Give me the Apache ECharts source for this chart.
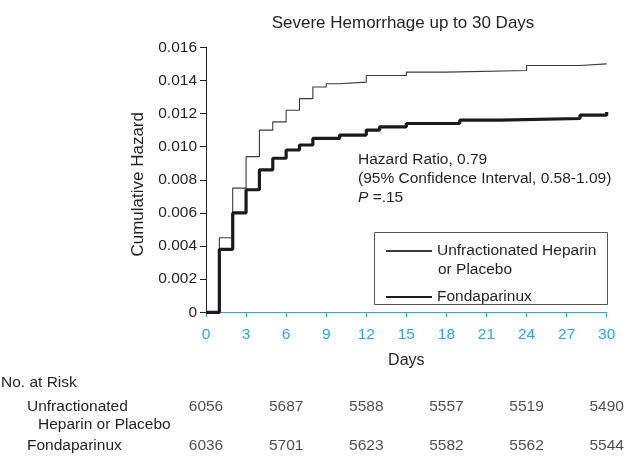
<!DOCTYPE html>
<html>
<head>
<meta charset="utf-8">
<script src="https://cdn.jsdelivr.net/npm/echarts@6/dist/echarts.min.js"></script>
<style>html,body{margin:0;padding:0;background:#fff}#c{width:626px;height:460px}</style>
</head>
<body>
<div id="c"></div>
<script>
// Data
var ufhDays   = [0, 1, 2, 3, 4, 5, 6, 7, 8, 9, 10, 12, 15, 18, 24, 28, 30];
var ufhHazard = [0, 0.0045, 0.0075, 0.0094, 0.0110, 0.0115, 0.0122, 0.0129, 0.0136, 0.0138, 0.0139, 0.0143, 0.0145, 0.0146, 0.0149, 0.0150, 0.0150];
var fondaDays   = [0, 1, 2, 3, 4, 5, 6, 7, 8, 10, 12, 13, 15, 19, 22, 28, 30];
var fondaHazard = [0, 0.0038, 0.0060, 0.0074, 0.0086, 0.0093, 0.0098, 0.0101, 0.0105, 0.0107, 0.0110, 0.0112, 0.0114, 0.0116, 0.0117, 0.0119, 0.0121];
var riskDays  = [0, 6, 12, 18, 24, 30];
var riskUfh   = [6056, 5687, 5588, 5557, 5519, 5490];
var riskFonda = [6036, 5701, 5623, 5582, 5562, 5544];
var xTicks = [0, 3, 6, 9, 12, 15, 18, 21, 24, 27, 30];
var yTicks = [0, 0.002, 0.004, 0.006, 0.008, 0.010, 0.012, 0.014, 0.016];
var ufhName = 'Unfractionated Heparin or Placebo';
var fondaName = 'Fondaparinux';

var FONT = '"Liberation Sans", Arial, Helvetica, sans-serif';
var TXT = '#231f20';
var BLUE = '#2aa9e0';
var FS = 15.5;

function zip(xs, ys) { return xs.map(function (x, i) { return [x, ys[i]]; }); }
function riskRow(vals, row) { return riskDays.map(function (d, i) { return [d, row, vals[i]]; }); }

var chart = echarts.init(document.getElementById('c'), null, {renderer: 'canvas'});
var riskLabel = {show: true, position: 'inside', fontSize: FS, color: TXT, fontFamily: FONT,
  formatter: function (p) { return String(p.value[2]); }};
chart.setOption({
  animation: false,
  textStyle: {fontFamily: FONT, color: TXT},
  title: {
    text: 'Severe Hemorrhage up to 30 Days',
    left: 398, top: 10, textAlign: 'center',
    textStyle: {fontFamily: FONT, fontSize: 17, fontWeight: 'normal', color: TXT}
  },
  grid: [
    {left: 206, right: 19.3, top: 47.3, bottom: 147.7},
    {left: 206, right: 19.3, top: 407, height: 39}
  ],
  xAxis: [{
    type: 'value', gridIndex: 0, min: 0, max: 30, interval: 3, offset: 7,
    axisLine: {show: true, lineStyle: {color: BLUE, width: 1.2}},
    axisTick: {show: true, length: 5, lineStyle: {color: BLUE, width: 1.2}},
    axisLabel: {color: BLUE, fontSize: FS, margin: 7, fontFamily: FONT},
    splitLine: {show: false},
    name: 'Days', nameLocation: 'middle', nameGap: 33,
    nameTextStyle: {fontSize: 16, color: TXT, fontFamily: FONT}
  }, {
    type: 'value', gridIndex: 1, min: 0, max: 30, show: false
  }],
  yAxis: [{
    type: 'value', gridIndex: 0, min: 0, max: 0.016, interval: 0.002,
    axisLine: {show: true, lineStyle: {color: TXT, width: 1}},
    axisTick: {show: true, length: 6, lineStyle: {color: TXT, width: 1}},
    axisLabel: {color: TXT, fontSize: FS, margin: 9, fontFamily: FONT,
      formatter: function (v) { return v === 0 ? '0' : v.toFixed(3); }},
    splitLine: {show: false},
    name: 'Cumulative Hazard', nameLocation: 'middle', nameRotate: 90, nameGap: 57,
    nameTextStyle: {fontSize: 17, color: TXT, fontFamily: FONT, padding: [0, 9, 0, 0]}
  }, {
    type: 'category', gridIndex: 1, data: ['ufh', 'fonda'], inverse: true,
    boundaryGap: false, show: false
  }],
  legend: [{
    orient: 'vertical', left: 385, top: 243, padding: 0,
    itemWidth: 46, itemHeight: 14,
    data: [ufhName],
    itemStyle: {opacity: 0},
    formatter: function () { return 'Unfractionated Heparin'; },
    textStyle: {fontSize: FS, color: TXT, fontFamily: FONT, lineHeight: 16}
  }, {
    orient: 'vertical', left: 385, top: 282, padding: 0,
    itemWidth: 46, itemHeight: 14,
    data: [fondaName],
    itemStyle: {opacity: 0},
    textStyle: {fontSize: FS, color: TXT, fontFamily: FONT, lineHeight: 16,
      padding: [0, 0, 14, 0]}
  }],
  series: [{
    name: ufhName, type: 'line', step: 'end', xAxisIndex: 0, yAxisIndex: 0,
    data: zip(ufhDays, ufhHazard), symbol: 'none',
    lineStyle: {color: '#3a3a3a', width: 1.1}, itemStyle: {color: '#3a3a3a'}
  }, {
    name: fondaName, type: 'line', step: 'end', xAxisIndex: 0, yAxisIndex: 0,
    data: zip(fondaDays, fondaHazard), symbol: 'none',
    lineStyle: {color: '#1a1a1a', width: 3.2}, itemStyle: {color: '#1a1a1a'}
  }, {
    type: 'scatter', xAxisIndex: 1, yAxisIndex: 1, data: riskRow(riskUfh, 'ufh'),
    symbolSize: 1, itemStyle: {color: 'rgba(0,0,0,0)'}, silent: true, label: riskLabel
  }, {
    type: 'scatter', xAxisIndex: 1, yAxisIndex: 1, data: riskRow(riskFonda, 'fonda'),
    symbolSize: 1, itemStyle: {color: 'rgba(0,0,0,0)'}, silent: true, label: riskLabel
  }],
  graphic: [
    {type: 'rect', shape: {x: 374.5, y: 232.5, width: 233, height: 72},
     style: {fill: 'none', stroke: '#555', lineWidth: 1}, z: 1},
    {type: 'text', left: 438, top: 262,
     style: {text: 'or Placebo', font: FS + 'px ' + FONT, fill: TXT}},
    {type: 'text', left: 358, top: 150,
     style: {
       text: 'Hazard Ratio, 0.79\n(95% Confidence Interval, 0.58-1.09)\n{i|P} =.15',
       font: FS + 'px ' + FONT, fill: TXT, lineHeight: 19,
       rich: {i: {fontStyle: 'italic', fontSize: FS, fontFamily: FONT, fill: TXT}}
     }},
    {type: 'text', left: 1, top: 375,
     style: {text: 'No. at Risk', font: FS + 'px ' + FONT, fill: TXT}},
    {type: 'text', left: 27, top: 399,
     style: {text: 'Unfractionated', font: FS + 'px ' + FONT, fill: TXT}},
    {type: 'text', left: 38, top: 417,
     style: {text: 'Heparin or Placebo', font: FS + 'px ' + FONT, fill: TXT}},
    {type: 'text', left: 27, top: 438,
     style: {text: 'Fondaparinux', font: FS + 'px ' + FONT, fill: TXT}}
  ]
});
</script>
</body>
</html>
